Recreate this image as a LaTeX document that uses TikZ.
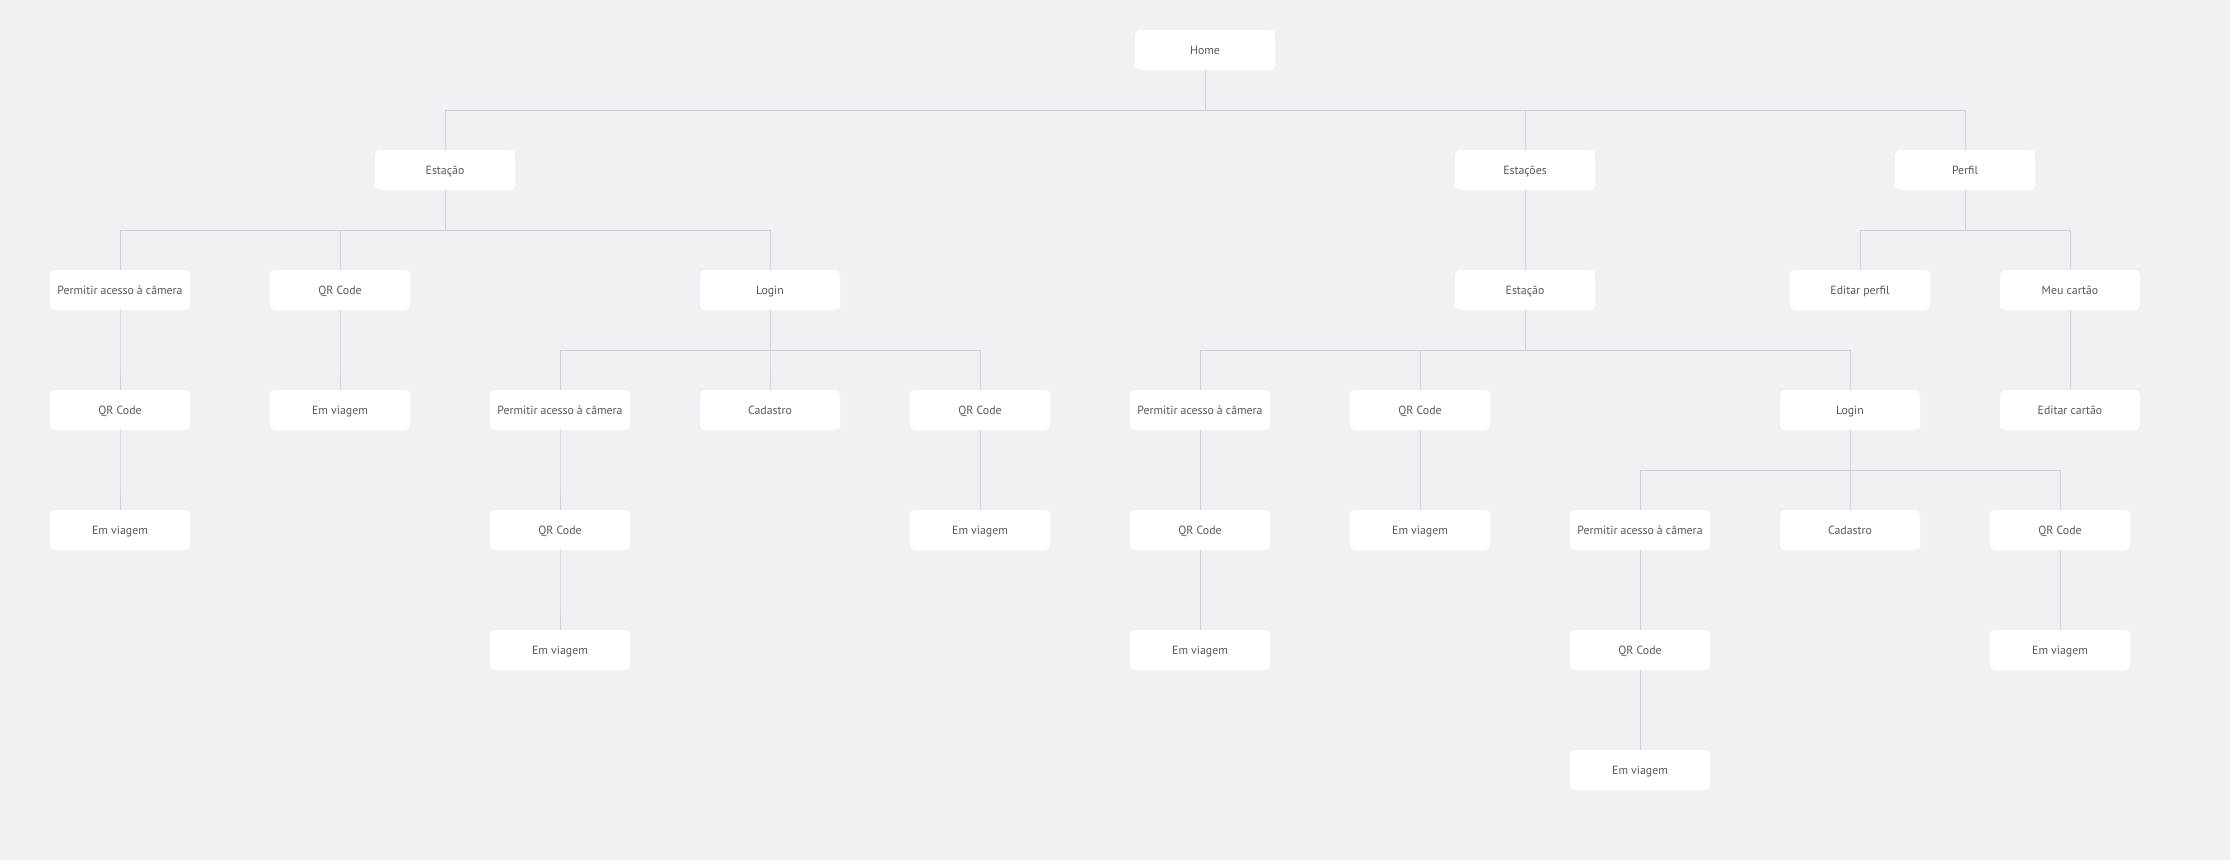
\documentclass[tikz,border=0pt]{standalone}
\usepackage{fontspec}
\setmainfont{PT Sans}
\definecolor{bgcol}{HTML}{F0F1F5}
\definecolor{linecol}{HTML}{D3D0D8}
\definecolor{txtcol}{HTML}{585858}
\tikzset{
  box/.style={fill=white, rounded corners=5pt, minimum width=140pt, minimum height=40pt, inner sep=0pt, text height=9.5pt, text depth=1pt, text=txtcol, font=\fontsize{11.8}{13}\selectfont},
  link/.style={draw=linecol, line width=0.9pt}
}

\begin{document}
\begin{tikzpicture}[x=1pt,y=1pt]
\fill[bgcol] (0,0) rectangle (2230,-860);
\useasboundingbox (0,0) rectangle (2230,-860);
% level 0 and 1
\node[box] (home) at (1205,-50) {Home};
\node[box] (estA) at (445,-170) {Estação};
\node[box] (ests) at (1525,-170) {Estações};
\node[box] (perfil) at (1965,-170) {Perfil};
% level 2
\node[box] (camA) at (120,-290) {Permitir acesso à câmera};
\node[box] (qrA) at (340,-290) {QR Code};
\node[box] (loginA) at (770,-290) {Login};
\node[box] (estB) at (1525,-290) {Estação};
\node[box] (edperf) at (1860,-290) {Editar perfil};
\node[box] (cartao) at (2070,-290) {Meu cartão};
% level 3
\node[box] (qrA1) at (120,-410) {QR Code};
\node[box] (viaA) at (340,-410) {Em viagem};
\node[box] (camB) at (560,-410) {Permitir acesso à câmera};
\node[box] (cadA) at (770,-410) {Cadastro};
\node[box] (qrB) at (980,-410) {QR Code};
\node[box] (camC) at (1200,-410) {Permitir acesso à câmera};
\node[box] (qrC) at (1420,-410) {QR Code};
\node[box] (loginB) at (1850,-410) {Login};
\node[box] (edcart) at (2070,-410) {Editar cartão};
% level 4
\node[box] (viaA1) at (120,-530) {Em viagem};
\node[box] (qrB1) at (560,-530) {QR Code};
\node[box] (viaB) at (980,-530) {Em viagem};
\node[box] (qrC1) at (1200,-530) {QR Code};
\node[box] (viaC) at (1420,-530) {Em viagem};
\node[box] (camD) at (1640,-530) {Permitir acesso à câmera};
\node[box] (cadB) at (1850,-530) {Cadastro};
\node[box] (qrD) at (2060,-530) {QR Code};
% level 5 and 6
\node[box] (viaB1) at (560,-650) {Em viagem};
\node[box] (viaC1) at (1200,-650) {Em viagem};
\node[box] (qrD1) at (1640,-650) {QR Code};
\node[box] (viaD) at (2060,-650) {Em viagem};
\node[box] (viaD1) at (1640,-770) {Em viagem};
% links
\foreach\p/\c in {home/estA,home/ests,home/perfil,estA/camA,estA/qrA,estA/loginA,camA/qrA1,qrA1/viaA1,qrA/viaA,
    loginA/camB,loginA/cadA,loginA/qrB,camB/qrB1,qrB1/viaB1,qrB/viaB,ests/estB,estB/camC,estB/qrC,estB/loginB,
    camC/qrC1,qrC1/viaC1,qrC/viaC,loginB/camD,loginB/cadB,loginB/qrD,camD/qrD1,qrD1/viaD1,qrD/viaD,
    perfil/edperf,perfil/cartao,cartao/edcart}{
    \draw[link] (\p.south) -- ++(0,-40) -| (\c.north);
}
\end{tikzpicture}
\end{document}
